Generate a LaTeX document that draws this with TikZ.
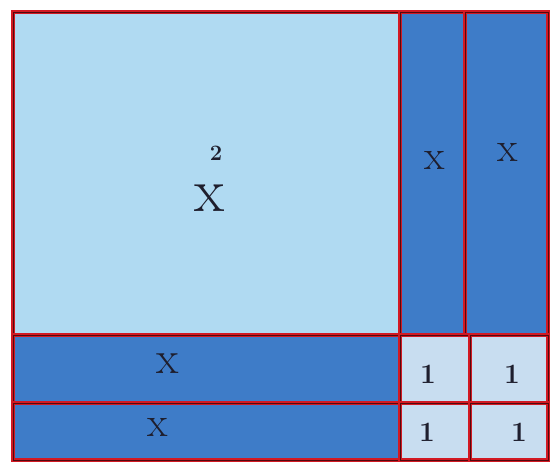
\documentclass[tikz,border=0pt]{standalone}
\usepackage{fontspec}
\begin{document}
\begin{tikzpicture}[x=1pt,y=-1pt,
  tile/.style={inner sep=0pt, outer sep=0pt, anchor=north west, fill=#1,
    draw={rgb,255:red,210;green,25;blue,35}, line width=3.5pt,
    postaction={draw={rgb,255:red,80;green,10;blue,15}, line width=0.6pt}},
  ink/.style={text={rgb,255:red,30;green,30;blue,45}},
  lbl/.style={ink, inner sep=0pt, font=\fontsize{#1}{#1}\selectfont},
  one/.style={ink, font=\fontsize{28}{28}\selectfont\bfseries}]
\definecolor{light}{RGB}{176,218,242}
\definecolor{strip}{RGB}{62,124,200}
\definecolor{unit}{RGB}{200,221,240}
\useasboundingbox (0,0) rectangle (555,466);
\fill[white] (0,0) rectangle (555,466);
\node[tile=light, minimum width=387pt, minimum height=323pt] (big) at (13,12) {};
\node[tile=strip, minimum width=65pt, minimum height=323pt] (s1) at (400,12) {};
\node[tile=strip, minimum width=83pt, minimum height=323pt] (s2) at (465,12) {};
\node[tile=strip, minimum width=387pt, minimum height=68pt] (r1) at (13,335) {};
\node[tile=strip, minimum width=387pt, minimum height=57pt] (r2) at (13,403) {};
\node[tile=unit, minimum width=70pt, minimum height=68pt] (u1) at (400,335) {};
\node[tile=unit, minimum width=78pt, minimum height=68pt] (u2) at (470,335) {};
\node[tile=unit, minimum width=70pt, minimum height=57pt] (u3) at (400,403) {};
\node[tile=unit, minimum width=78pt, minimum height=57pt] (u4) at (470,403) {};
\node[lbl=62] (lbig) at (210,198) {x};
\node[lbl=22, anchor=south] (lsup) at ([xshift=6pt,yshift=24pt]lbig.north) {\bfseries 2};
\node[lbl=42] (ls1) at (435,160) {x};
\node[lbl=42] (ls2) at (508,152) {x};
\node[lbl=46] (lr1) at (168,364) {x};
\node[lbl=42] (lr2) at (158,427) {x};
\node[one] (l1) at (428,374) {1};
\node[one] (l2) at (512,374) {1};
\node[one] (l3) at (427,432) {1};
\node[one] (l4) at (519,432) {1};
\end{tikzpicture}
\end{document}
